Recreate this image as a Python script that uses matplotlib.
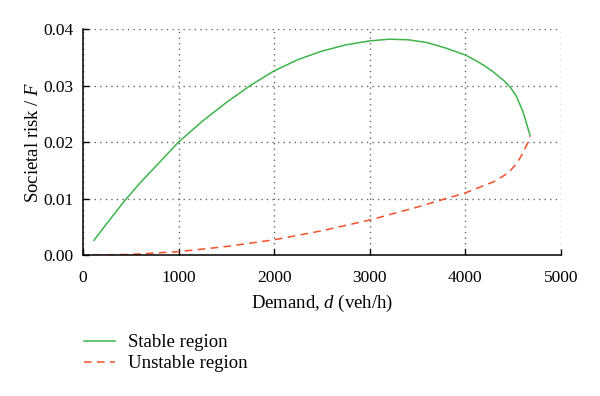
import matplotlib
matplotlib.use('Agg')
import matplotlib.pyplot as plt

plt.rcParams['font.family'] = ['Liberation Serif', 'DejaVu Serif']
plt.rcParams['mathtext.fontset'] = 'custom'
plt.rcParams['mathtext.it'] = 'Liberation Serif:italic'
plt.rcParams['mathtext.rm'] = 'Liberation Serif'

# stable branch
stable_d = [115, 250, 440, 600, 800, 1000, 1250, 1500, 1750, 2000, 2250,
            2500, 2750, 3000, 3200, 3400, 3600, 3800, 4000, 4100, 4200,
            4300, 4400, 4470, 4530, 4600, 4676]
stable_f = [0.0026, 0.0056, 0.0097, 0.0128, 0.0164, 0.0200, 0.0237, 0.0270,
            0.0300, 0.0326, 0.0346, 0.0361, 0.0372, 0.0379, 0.0382, 0.0381,
            0.0376, 0.0366, 0.0354, 0.0345, 0.0335, 0.0323, 0.0309, 0.0297,
            0.0282, 0.0255, 0.0212]

# unstable branch
unstable_d = [115, 500, 1000, 1500, 2000, 2500, 3000, 3500, 4000, 4300,
              4446, 4537, 4600, 4650, 4676]
unstable_f = [0.0, 0.0001, 0.0006, 0.0015, 0.0027, 0.0043, 0.0062, 0.0085,
              0.0110, 0.0130, 0.0145, 0.0162, 0.0180, 0.0198, 0.0210]

fig = plt.figure(figsize=(6, 3.96), dpi=100)
ax = fig.add_axes([0.1383, 0.356, 0.7967, 0.5707])

l1, = ax.plot(stable_d, stable_f, color='#3db54a', lw=1.1, label='Stable region')
l2, = ax.plot(unstable_d, unstable_f, color='#f4502a', lw=1.1,
              dashes=(5, 3.5), label='Unstable region')

ax.set_xlim(0, 5000)
ax.set_ylim(0, 0.04)
ax.set_xticks([0, 1000, 2000, 3000, 4000, 5000])
ax.set_yticks([0, 0.01, 0.02, 0.03, 0.04])
ax.set_yticklabels(['0.00', '0.01', '0.02', '0.03', '0.04'])
ax.grid(True, linestyle=(0, (1, 3)), color='#666666', lw=1)
for s in ['top', 'right']:
    ax.spines[s].set_visible(False)
for s in ['left', 'bottom']:
    ax.spines[s].set_linewidth(1.1)
ax.tick_params(direction='in', length=4, width=1, labelsize=12.5)
ax.tick_params(axis='y', pad=7)
ax.tick_params(axis='x', pad=11)

ax.set_xlabel('Demand, $d$ (veh/h)', fontsize=13.5, labelpad=5)
ax.set_ylabel('Societal risk / $F$', fontsize=13.5, labelpad=1)

fig.legend(handles=[l1, l2], loc='upper left', bbox_to_anchor=(0.127, 0.175),
           frameon=False, fontsize=13.5, handlelength=1.65, handletextpad=0.7,
           labelspacing=0.2, borderaxespad=0)

plt.savefig('out.png', dpi=100)
